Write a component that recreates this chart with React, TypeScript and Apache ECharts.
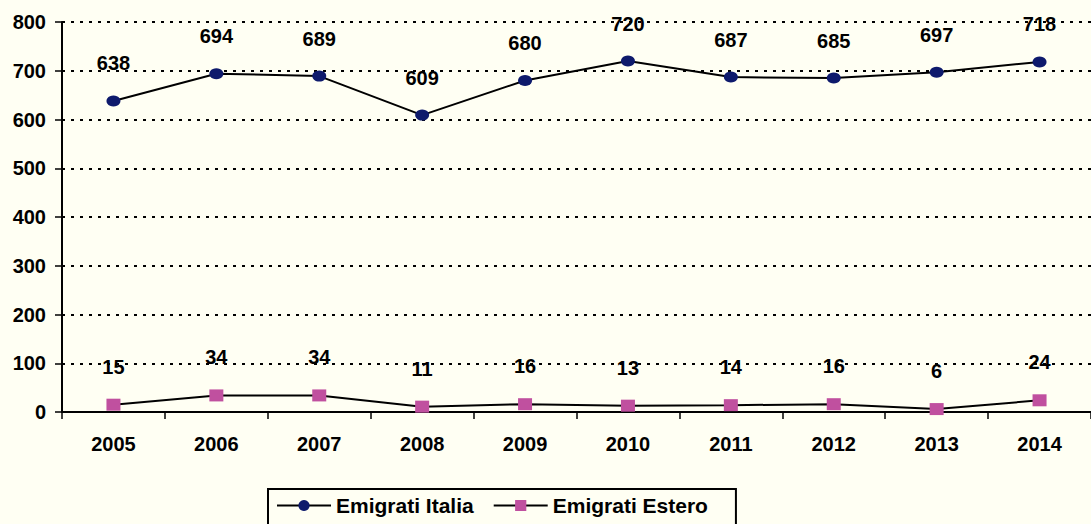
import React, { useEffect, useRef } from "react";
import * as echarts from "echarts";

const years = ["2005", "2006", "2007", "2008", "2009", "2010", "2011", "2012", "2013", "2014"];
const italia = [638, 694, 689, 609, 680, 720, 687, 685, 697, 718];
const estero = [15, 34, 34, 11, 16, 13, 14, 16, 6, 24];

const FONT = "Arial, 'Liberation Sans', sans-serif";

export default function App() {
  const ref = useRef<HTMLDivElement>(null);
  useEffect(() => {
    const chart = echarts.init(ref.current!, null, { renderer: "svg" });
    const labelStyle = {
      show: true,
      position: "top" as const,
      distance: 22,
      fontFamily: FONT,
      fontWeight: "bold" as const,
      fontSize: 20,
      color: "#000",
    };
    chart.setOption({
      animation: false,
      backgroundColor: "#FFFFF3",
      grid: { left: 62, top: 22, width: 1040, height: 390 },
      xAxis: {
        type: "category",
        data: years,
        boundaryGap: true,
        axisLine: { lineStyle: { color: "#000", width: 2 } },
        axisTick: { show: true, length: 7, lineStyle: { color: "#000", width: 1.5 } },
        axisLabel: {
          margin: 22,
          fontFamily: FONT,
          fontWeight: "bold",
          fontSize: 20,
          color: "#000",
        },
        splitLine: { show: false },
      },
      yAxis: {
        type: "value",
        min: 0,
        max: 800,
        interval: 100,
        axisLine: { show: true, lineStyle: { color: "#000", width: 2 } },
        axisTick: { show: true, length: 7, lineStyle: { color: "#000", width: 1.5 } },
        axisLabel: {
          margin: 16,
          fontFamily: FONT,
          fontWeight: "bold",
          fontSize: 20,
          color: "#000",
        },
        splitLine: { show: true, lineStyle: { color: "#000", width: 2, type: [3, 6] } },
      },
      legend: {
        bottom: -6,
        left: 268,
        itemGap: 19,
        itemWidth: 54,
        itemHeight: 14,
        borderColor: "#000",
        borderWidth: 2,
        padding: [6, 28, 14, 8],
        backgroundColor: "#FFFFF3",
        textStyle: {
          fontFamily: FONT,
          fontWeight: "bold",
          fontSize: 21,
          color: "#000",
        },
        data: ["Emigrati Italia", "Emigrati Estero"],
      },
      series: [
        {
          name: "Emigrati Italia",
          type: "line",
          data: italia,
          symbol: "circle",
          symbolSize: [14, 11],
          lineStyle: { color: "#000", width: 2 },
          itemStyle: { color: "#0E1A6C" },
          label: labelStyle,
        },
        {
          name: "Emigrati Estero",
          type: "line",
          data: estero,
          symbol: "rect",
          symbolSize: [14, 12],
          lineStyle: { color: "#000", width: 2 },
          itemStyle: { color: "#C0509F" },
          label: labelStyle,
        },
      ],
    });
    return () => chart.dispose();
  }, []);
  return (
    <div
      ref={ref}
      style={{ position: "fixed", left: 0, top: 0, width: 1091, height: 524 }}
    />
  );
}
